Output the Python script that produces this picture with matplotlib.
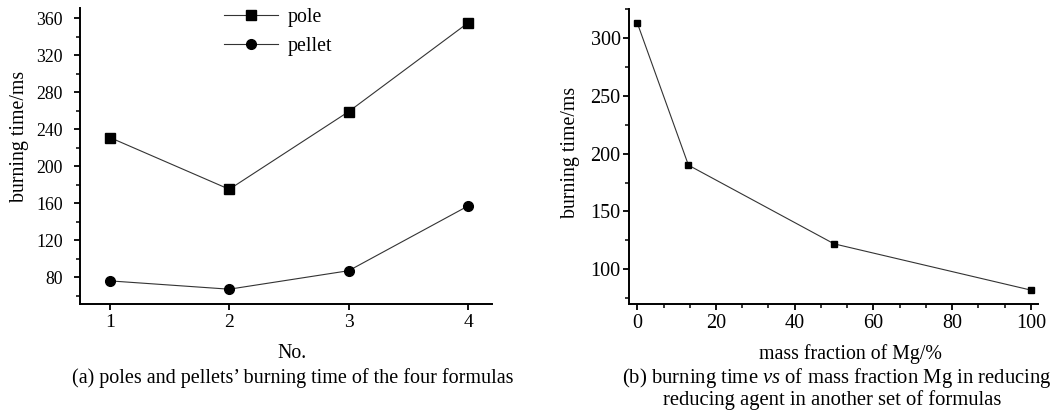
import matplotlib
matplotlib.use("Agg")
import matplotlib.pyplot as plt
from matplotlib.ticker import MultipleLocator, AutoMinorLocator

plt.rcParams['font.family'] = ['Liberation Serif', 'DejaVu Serif']
plt.rcParams['mathtext.fontset'] = 'custom'
plt.rcParams['mathtext.it'] = 'Liberation Serif:italic'
plt.rcParams['mathtext.rm'] = 'Liberation Serif'

# Left panel data
formula_no = [1, 2, 3, 4]
pole_time = [231, 175, 259, 355]
pellet_time = [76, 67, 87, 157]

# Right panel data
mg_fraction = [0, 13, 50, 100]
mg_time = [313, 190, 122, 82]

W, H = 1055, 413
fig = plt.figure(figsize=(W / 100, H / 100), dpi=100)


def fx(px):
    return px / W


def fy(py):
    return 1 - py / H


axL = fig.add_axes([fx(80), fy(304), fx(492 - 80), (304 - 8) / H])
axR = fig.add_axes([fx(629), fy(304), fx(1038 - 629), (304 - 9) / H])

lc = '#333333'
axL.plot(formula_no, pole_time, color=lc, lw=0.8, marker='s', ms=6.8,
         mfc='black', mec='black', label='pole')
axL.plot(formula_no, pellet_time, color=lc, lw=0.8, marker='o', ms=7,
         mfc='black', mec='black', label='pellet')
axL.set_xlim(0.75, 4.2)
axL.set_ylim(51, 371)
axL.set_xticks(formula_no)
axL.yaxis.set_minor_locator(MultipleLocator(20))
axL.set_yticks(range(80, 361, 40))
axL.legend(loc='upper left', bbox_to_anchor=(0.33, 1.027), frameon=False,
           fontsize=14.3, handlelength=2.7, handletextpad=0.5,
           labelspacing=0.5, borderaxespad=0)

axR.plot(mg_fraction, mg_time, color=lc, lw=0.8, marker='s', ms=5,
         mfc='black', mec='black')
axR.set_xlim(-2.1, 101.8)
axR.set_ylim(70, 325)
axR.xaxis.set_major_locator(MultipleLocator(20))
axR.xaxis.set_minor_locator(AutoMinorLocator(3))
axR.yaxis.set_minor_locator(MultipleLocator(25))
axR.set_yticks([100, 150, 200, 250, 300])

for ax in (axL, axR):
    for s in ('top', 'right'):
        ax.spines[s].set_visible(False)
    for s in ('left', 'bottom'):
        ax.spines[s].set_linewidth(1.4)
    ax.tick_params(which='major', direction='out', length=4.5, width=1.3,
                   pad=3)
    ax.tick_params(which='minor', direction='out', length=3, width=1.1)

axL.tick_params(axis='y', which='major', pad=8, labelsize=12.8)
axL.tick_params(axis='x', which='major', pad=3, labelsize=14)
axL.tick_params(axis='x', which='minor', length=0)
axR.tick_params(axis='y', which='major', pad=1.5, labelsize=14.5)
axR.tick_params(axis='x', which='major', pad=3, labelsize=14.5)

fs = 14.3
# axis titles
fig.text(fx(19.5), fy(136), 'burning time/ms', rotation=90, ha='center',
         va='center', fontsize=fs)
fig.text(fx(570), fy(152), 'burning time/ms', rotation=90, ha='center',
         va='center', fontsize=fs)
fig.text(fx(292), fy(354), 'No.', ha='center', va='center', fontsize=fs)
fig.text(fx(850), fy(354), 'mass fraction of Mg/%', ha='center', va='center',
         fontsize=fs)

# captions
fig.text(fx(293), fy(378), "(a) poles and pellets\u2019 burning time of the four formulas",
         ha='center', va='center', fontsize=14.5)
fig.text(fx(837), fy(378), "(b) burning time $vs$ of mass fraction Mg in reducing",
         ha='center', va='center', fontsize=14.9)
fig.text(fx(832), fy(400), "reducing agent in another set of formulas",
         ha='center', va='center', fontsize=14.9)

fig.savefig('out.png', dpi=100)
